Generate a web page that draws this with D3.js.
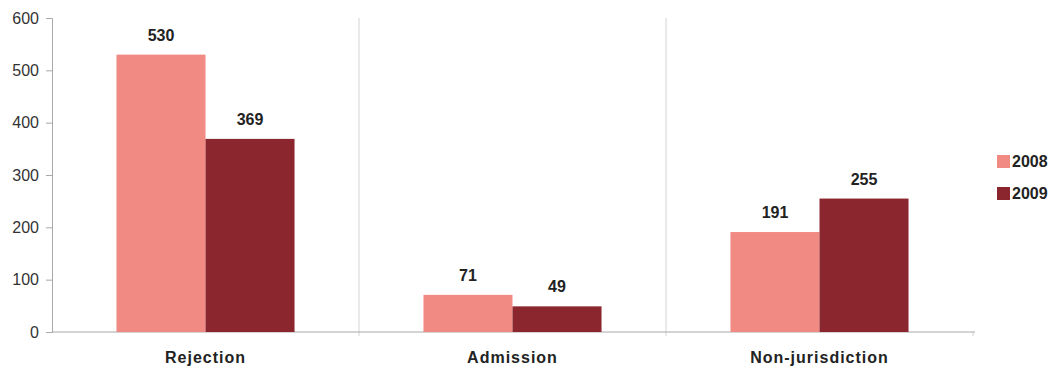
<!DOCTYPE html>
<html>
<head>
<meta charset="utf-8">
<script src="https://cdn.jsdelivr.net/npm/d3@7"></script>
<style>
  body { margin: 0; background: #fff; }
  text { font-family: "Liberation Sans", Arial, sans-serif; }
</style>
</head>
<body>
<div id="chart"></div>
<script>
const categories = ["Rejection", "Admission", "Non-jurisdiction"];
const years = ["2008", "2009"];
const values2008 = [530, 71, 191];
const values2009 = [369, 49, 255];
const yTicks = [0, 100, 200, 300, 400, 500, 600];

const colors = { "2008": "#f28a84", "2009": "#8c262e" };
const margin = { top: 18, right: 79, bottom: 36, left: 52 };
const canvasWidth = 1052;
const canvasHeight = 368;
const width = canvasWidth - margin.left - margin.right;
const height = canvasHeight - margin.top - margin.bottom;

const rows = categories.map((c, i) => ({ category: c, "2008": values2008[i], "2009": values2009[i] }));

const svg = d3.select("#chart")
  .append("svg")
  .attr("width", canvasWidth)
  .attr("height", canvasHeight);

const g = svg.append("g")
  .attr("transform", `translate(${margin.left},${margin.top})`);

const x0 = d3.scaleBand().domain(categories).range([0, width]).paddingInner(0.42).paddingOuter(0.21);
const x1 = d3.scaleBand().domain(years).range([0, x0.bandwidth()]);
const y = d3.scaleLinear().domain([0, 600]).range([height, 0]);

// category separators
g.selectAll(".sep")
  .data(categories.slice(1).concat(["end"]))
  .enter()
  .append("line")
  .attr("x1", (d, i) => x0.step() * (i + 1))
  .attr("x2", (d, i) => x0.step() * (i + 1))
  .attr("y1", (d, i) => i < 2 ? 0 : height)
  .attr("y2", height + 4)
  .attr("stroke", "#d4d4d4");

// y axis
const yAxis = g.append("g")
  .call(d3.axisLeft(y).tickValues(yTicks).tickSize(6).tickPadding(7));
yAxis.select(".domain").attr("stroke", "#a8a8a8");
yAxis.selectAll(".tick line").attr("stroke", "#a8a8a8");
yAxis.selectAll("text")
  .attr("font-size", 16)
  .attr("fill", "#333")
  .attr("font-family", "Liberation Sans, Arial, sans-serif");

// x axis baseline
g.append("line")
  .attr("x1", 0).attr("x2", width + 2)
  .attr("y1", height).attr("y2", height)
  .attr("stroke", "#a8a8a8");

// bars
const groups = g.selectAll(".grp")
  .data(rows)
  .enter()
  .append("g")
  .attr("transform", d => `translate(${x0(d.category)},0)`);

groups.selectAll("rect")
  .data(d => years.map(k => ({ key: k, value: d[k] })))
  .enter()
  .append("rect")
  .attr("x", d => x1(d.key))
  .attr("y", d => y(d.value))
  .attr("width", x1.bandwidth())
  .attr("height", d => height - y(d.value))
  .attr("fill", d => colors[d.key]);

groups.selectAll(".val")
  .data(d => years.map(k => ({ key: k, value: d[k] })))
  .enter()
  .append("text")
  .attr("x", d => x1(d.key) + x1.bandwidth() / 2)
  .attr("y", d => y(d.value) - 14)
  .attr("text-anchor", "middle")
  .attr("font-size", 16)
  .attr("font-weight", "bold")
  .attr("fill", "#222")
  .text(d => d.value);

// category labels
g.selectAll(".cat")
  .data(categories)
  .enter()
  .append("text")
  .attr("x", d => x0(d) + x0.bandwidth() / 2)
  .attr("y", height + 31)
  .attr("text-anchor", "middle")
  .attr("font-size", 16)
  .attr("font-weight", "bold")
  .attr("letter-spacing", 1)
  .attr("fill", "#222")
  .text(d => d);

// legend
const legend = svg.append("g").attr("transform", "translate(997,155)");
const items = legend.selectAll("g")
  .data(years)
  .enter()
  .append("g")
  .attr("transform", (d, i) => `translate(0,${i * 32})`);
items.append("rect")
  .attr("width", 13)
  .attr("height", 13)
  .attr("fill", d => colors[d]);
items.append("text")
  .attr("x", 15)
  .attr("y", 12)
  .attr("font-size", 16)
  .attr("font-weight", "bold")
  .attr("fill", "#222")
  .text(d => d);
</script>
</body>
</html>
